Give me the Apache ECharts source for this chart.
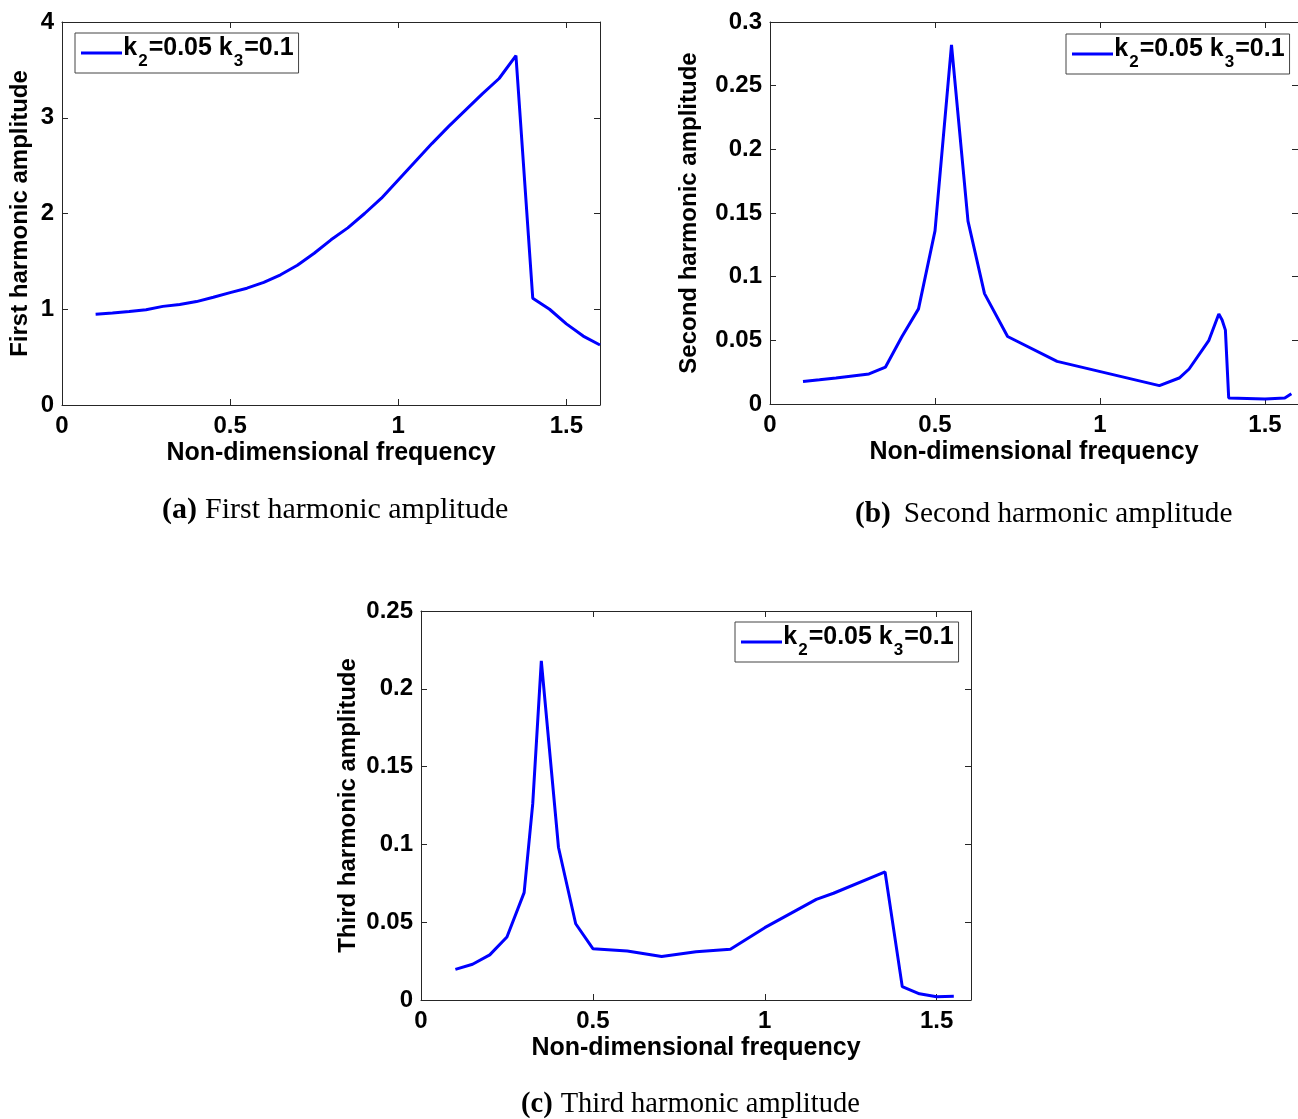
<!DOCTYPE html>
<html lang="en" style="height: 100%">
<head>
  <meta charset="utf-8">
</head>
<body style="height: 100%; margin: 0; background: #fff">
  <div id="container" style="width: 1298px; height: 1119px"></div>

  <script type="text/javascript" src="https://cdn.jsdelivr.net/npm/echarts@6.0.0/dist/echarts.min.js"></script>

  <script type="text/javascript">
    // (a) first harmonic
    const freqA = [0.1, 0.15, 0.2, 0.25, 0.3, 0.35, 0.4, 0.45, 0.5, 0.55, 0.6, 0.65, 0.7, 0.75, 0.8,
      0.85, 0.9, 0.95, 1.0, 1.05, 1.1, 1.15, 1.2, 1.25, 1.3, 1.35, 1.4, 1.45, 1.5, 1.55, 1.6];
    const ampA = [0.948, 0.96, 0.976, 0.995, 1.03, 1.05, 1.08, 1.125, 1.174, 1.22, 1.28, 1.36, 1.46, 1.585, 1.725,
      1.85, 2.0, 2.16, 2.35, 2.54, 2.73, 2.91, 3.08, 3.25, 3.41, 3.65, 1.115, 1.0, 0.847, 0.72, 0.627];

    // (b) second harmonic
    const freqB = [0.1, 0.15, 0.2, 0.3, 0.35, 0.4, 0.45, 0.5, 0.55, 0.6, 0.65, 0.72, 0.87,
      1.18, 1.24, 1.27, 1.33, 1.36, 1.37, 1.38, 1.39, 1.5, 1.56, 1.58];
    const ampB = [0.0176, 0.019, 0.0205, 0.0236, 0.029, 0.053, 0.0747, 0.136, 0.282, 0.1436, 0.0867, 0.053, 0.0335,
      0.0144, 0.0204, 0.0275, 0.05, 0.0707, 0.066, 0.058, 0.0047, 0.004, 0.0047, 0.008];

    // (c) third harmonic
    const freqC = [0.1, 0.15, 0.2, 0.25, 0.3, 0.325, 0.35, 0.4, 0.45, 0.5, 0.6, 0.7, 0.8, 0.9,
      1.0, 1.15, 1.2, 1.35, 1.4, 1.45, 1.5, 1.55];
    const ampC = [0.0197, 0.023, 0.029, 0.0405, 0.069, 0.126, 0.218, 0.098, 0.049, 0.033, 0.0315, 0.028, 0.031, 0.0326,
      0.0465, 0.0647, 0.0686, 0.0823, 0.0086, 0.004, 0.0021, 0.0024];

    const xTicks = [0, 0.5, 1, 1.5];
    const yNames = ['First harmonic amplitude', 'Second harmonic amplitude', 'Third harmonic amplitude'];
    const yMax = [4, 0.3, 0.25];
    const yStep = [1, 0.05, 0.05];
    const captions = [
      ['(a)', 'First harmonic amplitude'],
      ['(b)', 'Second harmonic amplitude'],
      ['(c)', 'Third harmonic amplitude']
    ];
    const seriesName = 'k2=0.05 k3=0.1';

    const sans = 'Liberation Sans, Arial, sans-serif';
    const serif = 'Liberation Serif, Times New Roman, serif';
    const axisColor = '#262626';

    const grids = [
      { left: 62, top: 22, width: 538, height: 383 },
      { left: 770, top: 22, width: 536, height: 382 },
      { left: 421, top: 611, width: 550, height: 389 }
    ];
    const yNameGap = [30, 69, 61];
    const legendPos = [
      { left: 75, top: 33 },
      { left: 1066, top: 34 },
      { left: 735, top: 622 }
    ];
    // caption placement, font size and gap after the bold tag
    const captionPos = [
      { left: 162, top: 495, size: 30, gap: 3 },
      { left: 855, top: 500, size: 29.3, gap: 8 },
      { left: 521, top: 1090, size: 28.5, gap: 3 }
    ];

    const tickText = { color: '#000', fontFamily: sans, fontWeight: 'bold', fontSize: 24 };
    const nameText = { color: '#000', fontFamily: sans, fontWeight: 'bold', fontSize: 25 };

    var xAxes = [], yAxes = [], series = [], legends = [], titles = [];
    const allData = [[freqA, ampA], [freqB, ampB], [freqC, ampC]];

    for (let i = 0; i < 3; i++) {
      xAxes.push({
        type: 'value', gridIndex: i, min: 0, max: 1.6, position: 'bottom',
        axisLine: { onZero: false, lineStyle: { color: axisColor, width: 1 } },
        axisTick: { inside: true, length: 6, customValues: xTicks, lineStyle: { color: axisColor } },
        axisLabel: Object.assign({ customValues: xTicks, margin: 9 }, tickText),
        splitLine: { show: false },
        name: 'Non-dimensional frequency', nameLocation: 'middle', nameGap: 36,
        nameTextStyle: nameText
      });
      xAxes.push({
        type: 'value', gridIndex: i, min: 0, max: 1.6, position: 'top',
        axisLine: { onZero: false, lineStyle: { color: axisColor, width: 1 } },
        axisTick: { inside: true, length: 6, customValues: xTicks, lineStyle: { color: axisColor } },
        axisLabel: { show: false },
        splitLine: { show: false }
      });
      yAxes.push({
        type: 'value', gridIndex: i, min: 0, max: yMax[i], interval: yStep[i], position: 'left',
        axisLine: { show: true, onZero: false, lineStyle: { color: axisColor, width: 1 } },
        axisTick: { show: true, inside: true, length: 6, lineStyle: { color: axisColor } },
        axisLabel: Object.assign({ margin: 8 }, tickText),
        splitLine: { show: false },
        name: yNames[i], nameLocation: 'middle', nameGap: yNameGap[i],
        nameTextStyle: Object.assign({}, nameText, { fontSize: 24 })
      });
      yAxes.push({
        type: 'value', gridIndex: i, min: 0, max: yMax[i], interval: yStep[i], position: 'right',
        axisLine: { show: true, onZero: false, lineStyle: { color: axisColor, width: 1 } },
        axisTick: { show: true, inside: true, length: 6, lineStyle: { color: axisColor } },
        axisLabel: { show: false },
        splitLine: { show: false }
      });
      const xs = allData[i][0], ys = allData[i][1];
      series.push({
        name: seriesName, type: 'line', xAxisIndex: i * 2, yAxisIndex: i * 2,
        data: xs.map((x, j) => [x, ys[j]]),
        symbol: 'none', smooth: false, animation: false,
        lineStyle: { color: '#0000ff', width: 3 },
        itemStyle: { color: '#0000ff' }
      });
      legends.push({
        data: [seriesName], left: legendPos[i].left, top: legendPos[i].top,
        orient: 'horizontal', selectedMode: false,
        backgroundColor: '#fff', borderColor: '#444', borderWidth: 1,
        padding: [3, 5, 3, 6], icon: 'rect', itemWidth: 41, itemHeight: 3, itemGap: 0,
        itemStyle: { color: '#0000ff' },
        formatter: () => '{h| }{m|k}{s|2}{m|=0.05 k}{s|3}{m|=0.1}',
        textStyle: {
          padding: [0, 0, 0, -4],
          rich: {
            h: { fontSize: 1, lineHeight: 34 },
            m: { fontFamily: sans, fontWeight: 'bold', fontSize: 25, color: '#000', lineHeight: 26, verticalAlign: 'top' },
            s: { fontFamily: sans, fontWeight: 'bold', fontSize: 17, color: '#000', lineHeight: 14, verticalAlign: 'bottom', padding: [0, 1, 0, 1] }
          }
        }
      });
      const cp = captionPos[i];
      titles.push({
        text: '{b|' + captions[i][0] + '} {r|' + captions[i][1] + '}',
        left: cp.left, top: cp.top, padding: 0,
        textStyle: {
          rich: {
            b: { fontFamily: serif, fontWeight: 'bold', fontSize: cp.size, color: '#000' },
            r: { fontFamily: serif, fontWeight: 'normal', fontSize: cp.size, color: '#000', padding: [0, 0, 0, cp.gap] }
          }
        }
      });
    }

    var dom = document.getElementById('container');
    var myChart = echarts.init(dom, null, { renderer: 'canvas' });
    var option = {
      backgroundColor: '#fff',
      animation: false,
      title: titles,
      legend: legends,
      grid: grids,
      xAxis: xAxes,
      yAxis: yAxes,
      series: series
    };
    myChart.setOption(option);
    window.addEventListener('resize', myChart.resize);
  </script>
</body>
</html>
